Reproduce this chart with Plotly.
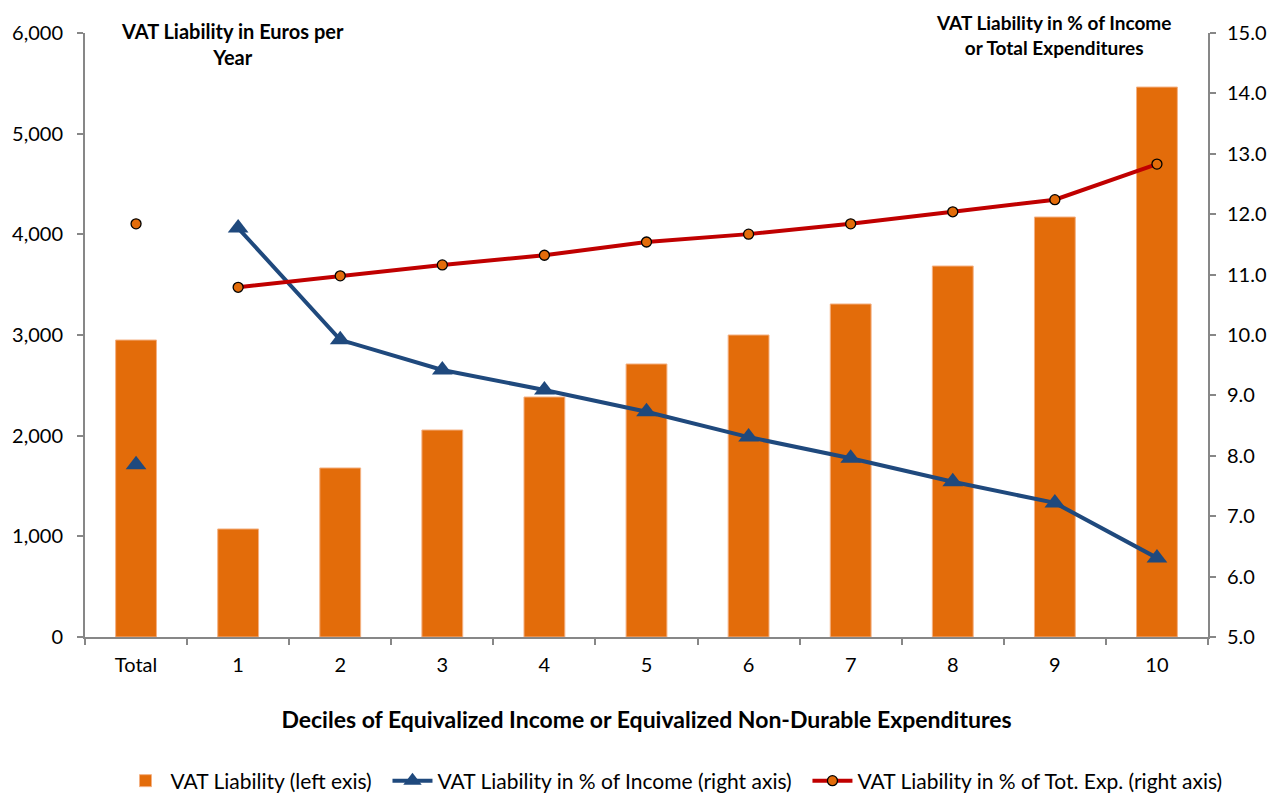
import plotly.graph_objects as go

categories = ["Total", "1", "2", "3", "4", "5", "6", "7", "8", "9", "10"]
vat_euros = [2950, 1073, 1679, 2056, 2384, 2712, 3000, 3308, 3685, 4172, 5463]
vat_pct_income = [7.85, 11.77, 9.92, 9.42, 9.09, 8.73, 8.31, 7.96, 7.57, 7.22, 6.31]
vat_pct_exp = [11.84, 10.79, 10.98, 11.16, 11.32, 11.54, 11.67, 11.84, 12.04, 12.24, 12.83]

BAR = "#E36C0A"
BLUE = "#1F497D"
RED = "#C00000"
FONT = "Lato"
PAD = "\u00a0" * 2

fig = go.Figure()
fig.add_trace(go.Bar(x=categories, y=vat_euros, name="VAT Liability (left exis)" + PAD,
                     marker=dict(color=BAR, line=dict(color="#F4B183", width=1)), yaxis="y"))
fig.add_trace(go.Scatter(x=categories[1:], y=vat_pct_income[1:], name="VAT Liability in % of Income (right axis)" + PAD,
                         mode="lines+markers", yaxis="y2",
                         line=dict(color=BLUE, width=4),
                         marker=dict(symbol="triangle-up", size=18, color=BLUE)))
fig.add_trace(go.Scatter(x=categories[:1], y=vat_pct_income[:1], showlegend=False,
                         mode="markers", yaxis="y2",
                         marker=dict(symbol="triangle-up", size=18, color=BLUE)))
fig.add_trace(go.Scatter(x=categories[1:], y=vat_pct_exp[1:], name="VAT Liability in % of Tot. Exp. (right axis)",
                         mode="lines+markers", yaxis="y2",
                         line=dict(color=RED, width=4),
                         marker=dict(symbol="circle", size=10, color=BAR, line=dict(color="#000000", width=1.3))))
fig.add_trace(go.Scatter(x=categories[:1], y=vat_pct_exp[:1], showlegend=False,
                         mode="markers", yaxis="y2",
                         marker=dict(symbol="circle", size=10, color=BAR, line=dict(color="#000000", width=1.3))))

axis_common = dict(showgrid=False, zeroline=False, showline=True, linecolor="#878787", linewidth=2,
                   ticks="outside", tickcolor="#878787", ticklen=6, tickwidth=1.5, automargin=False,
                   tickfont=dict(family=FONT, size=20, color="#000000"))

fig.update_layout(
    width=1275, height=795,
    paper_bgcolor="white", plot_bgcolor="white",
    margin=dict(l=77, r=75, t=25, b=166),
    bargap=0.6,
    font=dict(family=FONT, color="#000000"),
    xaxis=dict(**axis_common, tickson="boundaries", type="category", ticklabelstandoff=9,
               range=[-0.5, len(categories) - 0.5],
               title=dict(text="<b>Deciles of Equivalized Income or Equivalized Non-Durable Expenditures</b>",
                          font=dict(family=FONT, size=23), standoff=37)),
    yaxis=dict(**axis_common, range=[0, 6000], dtick=1000, tickformat=",d", ticklabelstandoff=10),
    yaxis2=dict(**axis_common, range=[5, 15], dtick=1, tickformat=".1f", overlaying="y", side="right",
                ticklabelstandoff=7),
    legend=dict(orientation="h", xref="container", x=666 / 1275, xanchor="center",
                yref="container", y=22 / 795, yanchor="middle", itemwidth=40,
                font=dict(family=FONT, size=21), traceorder="normal"),
    showlegend=True,
)

fig.add_annotation(text="<b>VAT Liability in Euros per<br>Year</b>", xref="paper", yref="paper",
                   x=(232 - 85) / (1208 - 85), y=1.0, xanchor="center", yanchor="top", showarrow=False,
                   font=dict(family=FONT, size=20), align="center", yshift=16)
fig.add_annotation(text="<b>VAT Liability in % of Income<br>or Total Expenditures</b>", xref="paper", yref="paper",
                   x=(1053 - 85) / (1208 - 85), y=1.0, xanchor="center", yanchor="bottom", showarrow=False,
                   font=dict(family=FONT, size=19), align="center", yshift=-28)

fig.write_html("out.html")
